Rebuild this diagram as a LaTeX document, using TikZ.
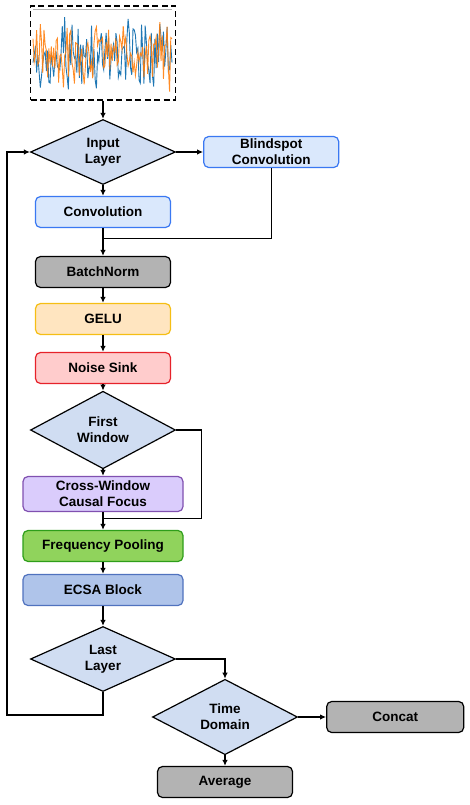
\documentclass[tikz,border=0pt]{standalone}
\usepackage{fontspec}
\setmainfont{Liberation Sans}
\usetikzlibrary{arrows.meta,positioning,shapes.geometric}
\definecolor{decfill}{RGB}{208,221,242}
\definecolor{convfill}{RGB}{218,232,252}
\definecolor{convline}{RGB}{58,120,242}
\definecolor{normgray}{RGB}{179,179,179}
\definecolor{gelufill}{RGB}{255,229,192}
\definecolor{geluline}{RGB}{245,190,20}
\definecolor{sinkfill}{RGB}{255,204,204}
\definecolor{sinkline}{RGB}{230,34,42}
\definecolor{focusfill}{RGB}{218,204,252}
\definecolor{focusline}{RGB}{128,80,176}
\definecolor{poolfill}{RGB}{144,211,92}
\definecolor{poolline}{RGB}{46,158,26}
\definecolor{ecsafill}{RGB}{175,196,234}
\definecolor{ecsaline}{RGB}{80,114,190}
\definecolor{sigblue}{RGB}{31,119,180}
\definecolor{sigorange}{RGB}{255,127,14}

\begin{document}
\begin{tikzpicture}[
    x=1pt, y=-1pt,
    node distance=14pt and 27pt,
    font=\fontsize{13.5}{16}\selectfont\bfseries,
    box/.style={draw, rounded corners=5pt, minimum width=135pt, minimum height=31pt, align=center, line width=1.2pt, inner sep=2pt},
    wide/.style={box, minimum width=160pt},
    decision/.style={diamond, draw, fill=decfill, line width=1.2pt, minimum width=145pt, minimum height=65pt, inner sep=0pt, align=center},
    arrow/.style={-{Latex[length=6pt,width=5.5pt]}, line width=1.2pt},
    link/.style={line width=1.2pt}
  ]
    \useasboundingbox (0,0) rectangle (470,805);

    % noisy input signal
    \node[draw, line width=1.5pt, dash pattern=on 6pt off 3.5pt, minimum width=145pt, minimum height=94pt, inner sep=0pt] (signal) at (103,53) {};
    \begin{scope}
      \clip (signal.south west) rectangle (signal.north east);
      \draw[gray!60, line width=0.8pt] (33,9) -- (172,9);
      \pgfmathsetseed{11}
      \draw[sigblue, line width=0.9pt] plot[domain=33:172, samples=115, variable=\t] (\t, {54 + 30*rand + 12*rand});
      \draw[sigorange, opacity=0.9, line width=0.9pt] plot[domain=33:172, samples=115, variable=\t] (\t, {56 + 26*rand + 12*rand});
    \end{scope}

    \node[decision] (input) at (103,152) {Input\\Layer};
    \node[box, right=of input, fill=convfill, draw=convline] (blind) {Blindspot\\Convolution};
    \node[box, fill=convfill, draw=convline] (conv) at (103,212) {Convolution};
    \node[box, fill=normgray] (norm) at (103,272) {BatchNorm};
    \node[box, fill=gelufill, draw=geluline] (gelu) at (103,319) {GELU};
    \node[box, fill=sinkfill, draw=sinkline] (sink) at (103,368) {Noise Sink};
    \node[decision] (first) at (103,430) {First\\Window};
    \node[wide, minimum height=35pt, fill=focusfill, draw=focusline] (focus) at (103,494) {Cross-Window\\Causal Focus};
    \node[wide, fill=poolfill, draw=poolline] (pool) at (103,546) {Frequency Pooling};
    \node[wide, fill=ecsafill, draw=ecsaline] (ecsa) at (103,590) {ECSA Block};
    \node[decision] (last) at (103,659) {Last\\Layer};
    \node[decision] (time) at (225,717) {Time\\Domain};
    \node[box, right=28pt of time, minimum width=137pt, fill=normgray] (concat) {Concat};
    \node[box, fill=normgray] (average) at (225,782) {Average};
    \coordinate (back) at (7,715);

    \draw[arrow] (signal) -- (input);
    \draw[arrow] (input) -- (blind);
    \draw[arrow] (input) -- (conv);
    \draw[arrow] (conv) -- (norm);
    \draw[link] (blind) |- ([yshift=-10pt]conv.south);
    \draw[arrow] (norm) -- (gelu);
    \draw[arrow] (gelu) -- (sink);
    \draw[arrow] (sink) -- (first);
    \draw[arrow] (first) -- (focus);
    \draw[link] (first.east) -- ++(25,0) |- ([yshift=-6pt]focus.south);
    \draw[arrow] (focus) -- (pool);
    \draw[arrow] (pool) -- (ecsa);
    \draw[arrow] (ecsa) -- (last);
    \draw[arrow] (last.south) |- (back) |- (input.west);
    \draw[arrow] (last.east) -| (time.north);
    \draw[arrow] (time) -- (concat);
    \draw[arrow] (time) -- (average);
  \end{tikzpicture}
\end{document}
